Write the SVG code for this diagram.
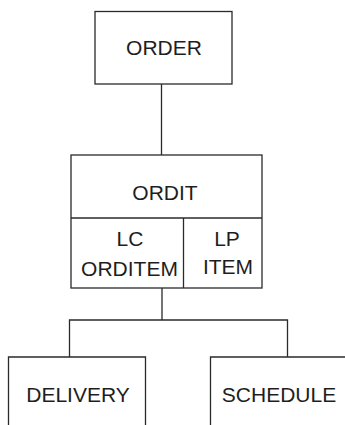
<svg xmlns="http://www.w3.org/2000/svg" width="345" height="425" viewBox="0 0 345 425">
<style>
.box{fill:none;stroke:#2a2a2a;stroke-width:1.3}
.ln{fill:none;stroke:#2a2a2a;stroke-width:1.3}
text{font-family:"Liberation Sans",Arial,sans-serif;font-size:21px;fill:#1e1e1e;text-anchor:middle}
</style>
<rect width="345" height="425" fill="#fff"/>
<g id="connectors">
<line class="ln" x1="161.5" y1="84" x2="161.5" y2="155"/>
<line class="ln" x1="162" y1="288" x2="162" y2="320"/>
<polyline class="ln" points="69.5,357 69.5,320 287.5,320 287.5,357"/>
</g>
<g id="order">
<rect class="box" x="95" y="11.5" width="137" height="72.5"/>
<text x="164" y="55">ORDER</text>
</g>
<g id="ordit">
<rect class="box" x="71" y="155" width="191" height="133"/>
<line class="ln" x1="71" y1="218" x2="262" y2="218"/>
<line class="ln" x1="183.5" y1="218" x2="183.5" y2="288"/>
<text x="165" y="200">ORDIT</text>
<text x="130" y="246">LC</text>
<text x="129.5" y="276">ORDITEM</text>
<text x="227" y="246">LP</text>
<text x="228" y="274">ITEM</text>
</g>
<g id="delivery">
<path class="box" d="M8.5,426 V357 H145.5 V426"/>
<text x="78" y="402">DELIVERY</text>
</g>
<g id="schedule">
<path class="box" d="M210.5,426 V357 H350"/>
<text x="279" y="402">SCHEDULE</text>
</g>
</svg>
